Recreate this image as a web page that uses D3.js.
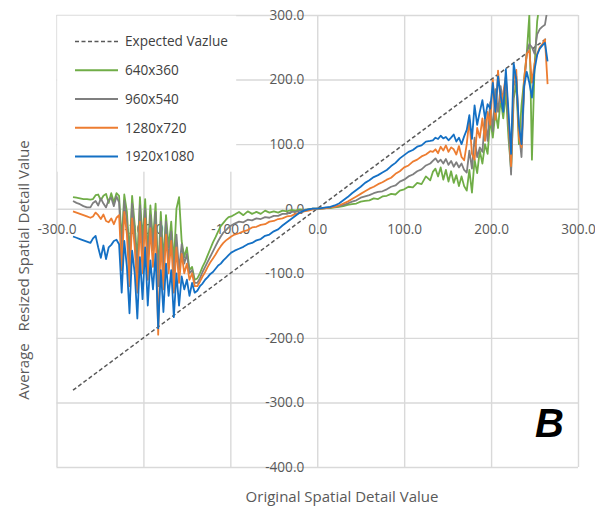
<!DOCTYPE html>
<html>
<head>
<meta charset="utf-8">
<script src="https://cdn.jsdelivr.net/npm/d3@7"></script>
<style>
  html, body { margin: 0; padding: 0; background: #ffffff; }
  svg { display: block; }
</style>
</head>
<body>
<script>
// Sampled original detail values (x) shared by every resolution series
const detailX = [
  -281,-277,-273,-269,-265,-261,-258,-255,-252,-249,-246,-243,-240,-237,-234,-231,
  -228,-225,-222,-219,-216,-213,-210,-207,-204,-201,-198,-195,-192,-189,-186,-183,-180,-177,-174,-171,-168,-165,-162,-159,-156,-153,-150,-147,-144,-141,
  -138,-135,-132,-129,-126,-123,-120,-117,-114,-111,-108,-105,-102,-99,
  -95,-90,-85,-80,-75,-70,-65,-60,-55,-50,-45,-40,-35,-30,-25,-20,-15,-10,-5,0,5,10,15,20,25,30,35,40,45,50,55,60,65,70,75,80,85,90,95,100,105,110,115,120,125,130,
  133,136,139,142,145,148,151,154,157,160,163,166,169,172,175,178,181,184,187,190,193,196,199,202,205,208,211,214,217,220,223,226,229,232,235,238,241,244,247,250,253,256,259,262,265
];

// Average resized spatial detail value per resolution
const res640 = [
  18,17,16,15,15,14,15,21,22,13,20,23,9,24,10,24,
  20,-50,22,-5,-70,20,-25,-80,18,-50,15,-70,5,-50,8,-100,-5,-80,-10,-60,-20,-85,0,18,-50,-75,-60,-95,-90,-110,
  -108,-100,-90,-82,-72,-62,-52,-44,-35,-27,-22,-17,-13,-12,
  -9,-5,-10,-4,-8,-5,-8,-3,-6,-4,-6,-3,-4,-2,-3,-1,-2,-1,0,0,0,1,1,2,3,4,6,7,8,11,12,13,16,15,19,20,23,22,28,30,34,33,40,38,50,44,
  57,62,50,64,45,60,42,58,40,52,35,50,35,28,60,25,76,55,90,70,100,85,138,110,150,125,170,140,180,110,60,170,195,100,160,200,240,300,76,220,290,320,320,320,320
];
const res960 = [
  12,9,7,4,2,2,9,12,5,16,8,2,14,17,4,19,
  10,-70,12,-20,-90,8,-40,-100,5,-70,0,-85,-10,-65,-5,-120,-20,-100,-20,-80,-35,-105,-40,-95,-55,-85,-70,-100,-95,-115,
  -115,-108,-98,-90,-82,-74,-66,-58,-50,-43,-37,-33,-29,-26,
  -23,-20,-21,-17,-18,-15,-16,-13,-14,-11,-11,-8,-8,-5,-5,-3,-2,-1,0,0,0,1,2,3,4,6,8,11,13,17,19,21,24,26,27,30,34,36,42,45,50,53,58,61,67,70,
  74,78,72,76,70,77,68,74,65,72,64,70,60,56,90,62,110,80,95,88,140,105,165,120,185,150,190,160,200,130,53,190,205,120,80,185,240,255,250,240,270,278,282,285,310
];
const res1280 = [
  -4,-6,-8,-10,-12,-14,-12,-6,-10,-16,-9,-19,-21,-15,-24,-14,
  -10,-95,-5,-40,-120,-15,-60,-130,-20,-100,-15,-110,-30,-90,-25,-195,-45,-125,-40,-100,-50,-130,-60,-115,-70,-100,-85,-110,-100,-120,
  -120,-113,-105,-98,-90,-83,-77,-71,-64,-58,-53,-49,-46,-43,
  -40,-38,-35,-33,-29,-28,-25,-24,-20,-19,-16,-15,-12,-11,-8,-7,-4,-3,-1,0,0,1,2,3,5,8,11,15,19,23,27,31,34,38,41,45,48,54,58,64,67,73,76,81,84,89,
  88,92,86,96,90,98,88,95,92,84,97,80,75,100,138,85,76,125,110,140,105,150,130,200,138,214,165,180,205,140,66,200,215,110,95,200,240,245,195,225,240,250,255,262,193
];
const res1920 = [
  -43,-45,-47,-49,-51,-53,-46,-42,-60,-76,-57,-78,-60,-56,-50,-48,
  -55,-130,-50,-90,-162,-65,-100,-170,-75,-140,-60,-150,-80,-125,-70,-185,-95,-160,-85,-135,-95,-168,-100,-150,-105,-125,-110,-135,-115,-130,
  -127,-120,-116,-110,-106,-101,-98,-93,-88,-85,-80,-76,-72,-68,
  -65,-62,-59,-55,-53,-49,-47,-42,-40,-35,-32,-26,-21,-16,-11,-6,-3,-1,0,0,1,2,3,5,8,13,18,24,29,34,40,44,49,52,56,60,66,71,78,83,88,91,96,98,104,105,
  106,110,108,113,109,111,106,110,115,104,110,100,112,122,145,108,160,130,150,168,140,162,155,195,150,205,175,150,216,150,85,225,200,130,100,190,212,195,172,215,238,248,253,257,228
];

// Expected value line (identity) end points
const expectedX = [-281, 265];
const expectedY = [-281, 265];

const seriesNames = ["640x360", "960x540", "1280x720", "1920x1080"];
const seriesColors = ["#70ad47", "#7f7f7f", "#ed7d31", "#1470c4"];
const seriesValues = [res640, res960, res1280, res1920];
const legendLabels = ["Expected Vazlue", ...seriesNames];

const xTicks = [-300, -200, -100, 0, 100, 200, 300];
const yTicks = [300, 200, 100, 0, -100, -200, -300, -400];

const W = 595, H = 514;
const plotLeft = 56.5, plotRight = 578, plotTop = 15, plotBottom = 467;
const font = "'Open Sans', 'Liberation Sans', sans-serif";

const svg = d3.select("body").append("svg").attr("width", W).attr("height", H);
svg.append("rect").attr("width", W).attr("height", H).attr("fill", "#fff");

const x = d3.scaleLinear().domain([-300, 300]).range([plotLeft, plotRight]);
const y = d3.scaleLinear().domain([-400, 300]).range([plotBottom, plotTop]);

// Gridlines
const gridX = svg.append("g").attr("transform", `translate(0,${plotBottom})`)
  .call(d3.axisBottom(x).tickValues(xTicks).tickSize(-(plotBottom - plotTop)).tickFormat(""));
const gridY = svg.append("g").attr("transform", `translate(${plotLeft},0)`)
  .call(d3.axisLeft(y).tickValues(yTicks).tickSize(-(plotRight - plotLeft)).tickFormat(""));
[gridX, gridY].forEach(g => {
  g.select(".domain").remove();
  g.selectAll("line").attr("stroke", "#d9d9d9").attr("stroke-width", 1.4);
});

// Tick labels placed along the axes that cross at the origin
const xLab = svg.append("g").attr("transform", `translate(0,${y(0)})`)
  .call(d3.axisBottom(x).tickValues(xTicks).tickSize(0).tickPadding(15.5).tickFormat(d => d.toFixed(1)));
const yLab = svg.append("g").attr("transform", `translate(${x(0)},0)`)
  .call(d3.axisLeft(y).tickValues(yTicks).tickSize(0).tickPadding(13).tickFormat(d => d.toFixed(1)));
[xLab, yLab].forEach(g => {
  g.select(".domain").remove();
  g.selectAll("text").attr("fill", "#595959").style("font-family", font).style("font-size", "13.6px");
});

// Data lines
svg.append("clipPath").attr("id", "plotClip")
  .append("rect").attr("x", plotLeft).attr("y", plotTop)
  .attr("width", plotRight - plotLeft).attr("height", plotBottom - plotTop);
const plot = svg.append("g").attr("clip-path", "url(#plotClip)");
const line = d3.line().x(d => x(d[0])).y(d => y(d[1]));

plot.append("path")
  .datum(d3.zip(expectedX, expectedY))
  .attr("d", line).attr("fill", "none")
  .attr("stroke", "#595959").attr("stroke-width", 1.5).attr("stroke-dasharray", "4,2.5");

seriesValues.forEach((vals, i) => {
  plot.append("path")
    .datum(d3.zip(detailX, vals))
    .attr("d", line).attr("fill", "none")
    .attr("stroke", seriesColors[i]).attr("stroke-width", 1.8)
    .attr("stroke-linejoin", "round");
});

// Legend
const legend = svg.append("g");
legend.append("rect").attr("x", plotLeft + 0.7).attr("y", plotTop + 0.7)
  .attr("width", 179).attr("height", 156).attr("fill", "#fff");
const legendY = d3.scalePoint().domain(legendLabels).range([41.5, 156.5]);
legendLabels.forEach((lab, i) => {
  const yy = legendY(lab);
  legend.append("line").attr("x1", 75).attr("x2", 118).attr("y1", yy).attr("y2", yy)
    .attr("stroke", i === 0 ? "#595959" : seriesColors[i - 1])
    .attr("stroke-width", i === 0 ? 1.4 : 2)
    .attr("stroke-dasharray", i === 0 ? "4,2.5" : null);
  legend.append("text").attr("x", 125).attr("y", yy).attr("dy", "0.35em")
    .attr("fill", "#404040").style("font-family", font).style("font-size", "13.6px").text(lab);
});

// Axis titles
svg.append("text").attr("x", 342).attr("y", 502).attr("text-anchor", "middle")
  .attr("fill", "#595959").style("font-family", font).style("font-size", "15px")
  .text("Original Spatial Detail Value");
svg.append("text").attr("transform", "translate(29,270) rotate(-90)").attr("text-anchor", "middle")
  .attr("fill", "#595959").style("font-family", font).style("font-size", "15px")
  .style("white-space", "pre")
  .text("Average   Resized Spatial Detail Value");

// Panel letter
svg.append("text").attr("x", 535).attr("y", 437)
  .style("font-family", "'Liberation Sans Narrow', 'Liberation Sans', Arial, sans-serif")
  .style("font-size", "40px").style("font-weight", "bold").style("font-style", "italic")
  .attr("fill", "#000").text("B");
</script>
</body>
</html>
